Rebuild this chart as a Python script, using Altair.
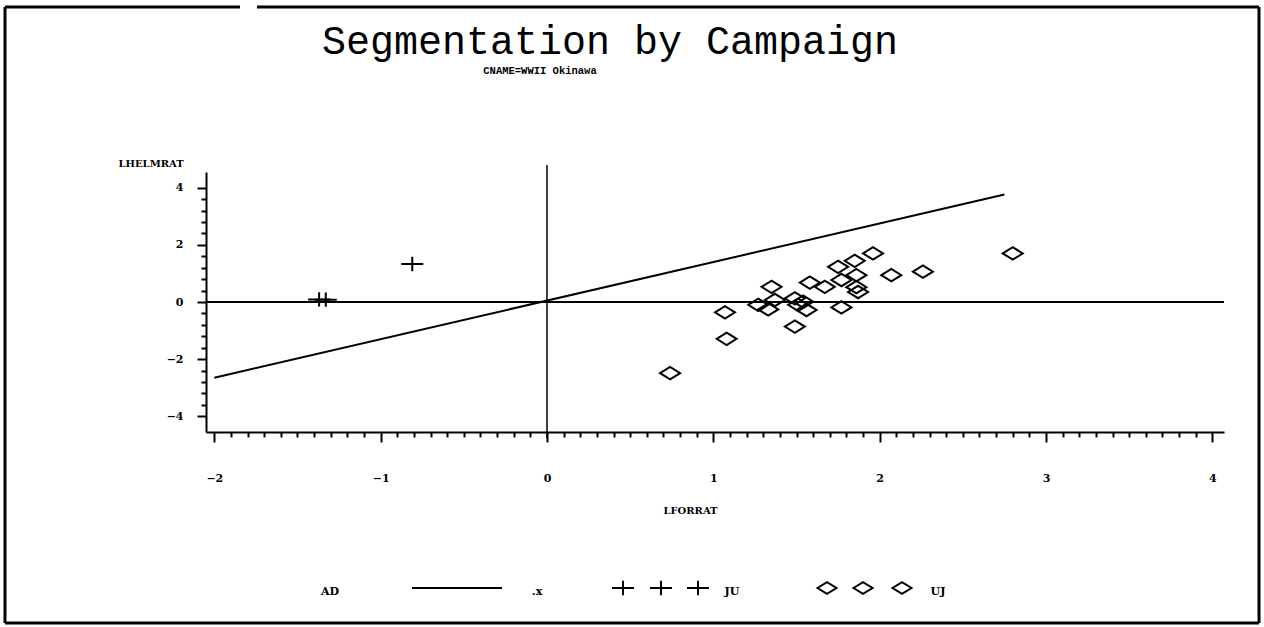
import altair as alt
import pandas as pd

# Campaign UJ observations (diamonds): LFORRAT, LHELMRAT
uj_x = [0.74, 1.08, 1.07, 1.35, 1.27, 1.33, 1.37, 1.49, 1.49, 1.54, 1.56, 1.51, 1.58,
        1.67, 1.77, 1.75, 1.77, 1.85, 1.86, 1.86, 1.87, 1.96, 2.07, 2.26, 2.80]
uj_y = [-2.49, -1.29, -0.36, 0.53, -0.10, -0.26, 0.07, -0.86, 0.13, 0.01, -0.28, -0.10, 0.68,
        0.53, -0.19, 1.23, 0.77, 1.44, 0.94, 0.52, 0.35, 1.70, 0.94, 1.06, 1.70]

# Campaign JU observations (crosses)
ju_x = [-1.37, -1.33, -0.81]
ju_y = [0.09, 0.08, 1.33]

# Fitted line (.x)
fit_x = [-2.0, 2.75]
fit_y = [-2.65, 3.76]

# Axis tick positions (major + minor)
x_ticks = [round(-2 + 0.1 * i, 1) for i in range(61)]
y_ticks = [round(-4 + 0.4 * i, 1) for i in range(21)]

LABEL_FONT = "DejaVu Serif"
TITLE_FONT = "Liberation Mono"
DIAMOND = "M -1 0 L 0 -0.62 L 1 0 L 0 0.62 Z"
CROSS = "M -1 0 L 1 0 M 0 -0.65 L 0 0.65"

W, H = 1018, 260

x_is_major = "abs(datum.value - round(datum.value)) < 0.001"
y_is_major = "abs(datum.value / 2 - round(datum.value / 2)) < 0.001"

x_scale = alt.Scale(domain=[-2.05, 4.07], nice=False, zero=False)
y_scale = alt.Scale(domain=[-4.55, 4.55], nice=False, zero=False)

x_axis = alt.Axis(
    values=x_ticks, title="LFORRAT", grid=False,
    labelExpr=f"{x_is_major} ? format(datum.value, 'd') : ''",
    labelOverlap=False, labelFlush=False,
    tickSize={"condition": {"test": x_is_major, "value": 10}, "value": 5},
    tickWidth=2, tickColor="black", domainColor="black", domainWidth=2,
    labelFont=LABEL_FONT, labelFontWeight="bold", labelFontSize=11, labelColor="black",
    labelPadding=30,
    titleFont=LABEL_FONT, titleFontWeight="bold", titleFontSize=10, titleColor="black",
    titleX=484, titleY=78, titleAlign="center", titleBaseline="middle",
)
y_axis = alt.Axis(
    values=y_ticks, title="LHELMRAT", grid=False,
    labelExpr=f"{y_is_major} ? format(datum.value, 'd') : ''",
    labelOverlap=False, labelFlush=False,
    tickSize={"condition": {"test": y_is_major, "value": 9}, "value": 5},
    tickWidth=2, tickColor="black", domainColor="black", domainWidth=2,
    labelFont=LABEL_FONT, labelFontWeight="bold", labelFontSize=11, labelColor="black",
    labelPadding=14,
    titleFont=LABEL_FONT, titleFontWeight="bold", titleFontSize=10, titleColor="black",
    titleAngle=0, titleX=-88, titleY=-9, titleAlign="left", titleBaseline="middle",
)

X = alt.X("x:Q", scale=x_scale, axis=x_axis)
Y = alt.Y("y:Q", scale=y_scale, axis=y_axis)

df_uj = pd.DataFrame({"x": uj_x, "y": uj_y})
df_ju = pd.DataFrame({"x": ju_x, "y": ju_y})
df_fit = pd.DataFrame({"x": fit_x, "y": fit_y})
one = pd.DataFrame({"k": [0]})

diamonds = alt.Chart(df_uj).mark_point(
    shape=DIAMOND, size=400, filled=False, color="black", strokeWidth=2, opacity=1
).encode(x=X, y=Y)

crosses = alt.Chart(df_ju).mark_point(
    shape=CROSS, size=484, filled=False, color="black", strokeWidth=2, opacity=1
).encode(x=X, y=Y)

fit_line = alt.Chart(df_fit).mark_line(color="black", strokeWidth=2).encode(x=X, y=Y)

# Reference lines at zero
hline = alt.Chart(pd.DataFrame({"y": [0.0]})).mark_rule(color="black", strokeWidth=2).encode(y=Y)
vline = alt.Chart(pd.DataFrame({"x": [0.0]})).mark_rule(color="black", strokeWidth=1.5).encode(
    x=X, y=alt.value(-7), y2=alt.value(266)
)

# Titles
title = alt.Chart(one).mark_text(
    text="Segmentation by Campaign", font=TITLE_FONT, fontSize=40, color="black",
    align="center", baseline="alphabetic"
).encode(x=alt.value(404), y=alt.value(-118))
subtitle = alt.Chart(one).mark_text(
    text="CNAME=WWII Okinawa", font=TITLE_FONT, fontSize=10.5, fontWeight="bold", color="black",
    align="center", baseline="middle"
).encode(x=alt.value(334), y=alt.value(-101))

# Legend
LEG_SYM_Y = 416
LEG_TXT_Y = 420
legend_layers = [
    alt.Chart(one).mark_text(text="AD", font=LABEL_FONT, fontSize=11, fontWeight="bold",
                             color="black", align="center", baseline="middle")
    .encode(x=alt.value(124), y=alt.value(LEG_TXT_Y)),
    alt.Chart(one).mark_rule(color="black", strokeWidth=2)
    .encode(x=alt.value(206), x2=alt.value(296), y=alt.value(LEG_SYM_Y)),
    alt.Chart(one).mark_text(text=".x", font=LABEL_FONT, fontSize=11, fontWeight="bold",
                             color="black", align="center", baseline="middle")
    .encode(x=alt.value(331), y=alt.value(LEG_TXT_Y)),
    alt.Chart(one).mark_text(text="JU", font=LABEL_FONT, fontSize=11, fontWeight="bold",
                             color="black", align="center", baseline="middle")
    .encode(x=alt.value(526), y=alt.value(LEG_TXT_Y)),
    alt.Chart(one).mark_text(text="UJ", font=LABEL_FONT, fontSize=11, fontWeight="bold",
                             color="black", align="center", baseline="middle")
    .encode(x=alt.value(732), y=alt.value(LEG_TXT_Y)),
]
for px in (417, 455, 492):
    legend_layers.append(
        alt.Chart(one).mark_point(shape=CROSS, size=484, filled=False, color="black",
                                  strokeWidth=2, opacity=1)
        .encode(x=alt.value(px), y=alt.value(LEG_SYM_Y))
    )
for px in (621, 657, 696):
    legend_layers.append(
        alt.Chart(one).mark_point(shape=DIAMOND, size=361, filled=False, color="black",
                                  strokeWidth=2, opacity=1)
        .encode(x=alt.value(px), y=alt.value(LEG_SYM_Y))
    )

# Page frame (top edge has a short break)
frame = [
    alt.Chart(one).mark_rule(color="black", strokeWidth=3)
    .encode(x=alt.value(-201), x2=alt.value(34), y=alt.value(-165)),
    alt.Chart(one).mark_rule(color="black", strokeWidth=3)
    .encode(x=alt.value(51), x2=alt.value(1053), y=alt.value(-165)),
    alt.Chart(one).mark_rule(color="black", strokeWidth=3)
    .encode(x=alt.value(-201), x2=alt.value(1053), y=alt.value(451)),
    alt.Chart(one).mark_rule(color="black", strokeWidth=3)
    .encode(x=alt.value(-201), y=alt.value(-165), y2=alt.value(451)),
    alt.Chart(one).mark_rule(color="black", strokeWidth=3)
    .encode(x=alt.value(1053), y=alt.value(-165), y2=alt.value(451)),
]

chart = alt.layer(
    hline, vline, fit_line, diamonds, crosses, title, subtitle, *legend_layers, *frame
).properties(
    width=W, height=H,
    autosize=alt.AutoSizeParams(type="none"),
    padding={"left": 206, "top": 172, "right": 40, "bottom": 195},
    background="white",
).configure_view(stroke=None)

chart.save("out.html", embed_options={"renderer": "svg", "actions": False})
